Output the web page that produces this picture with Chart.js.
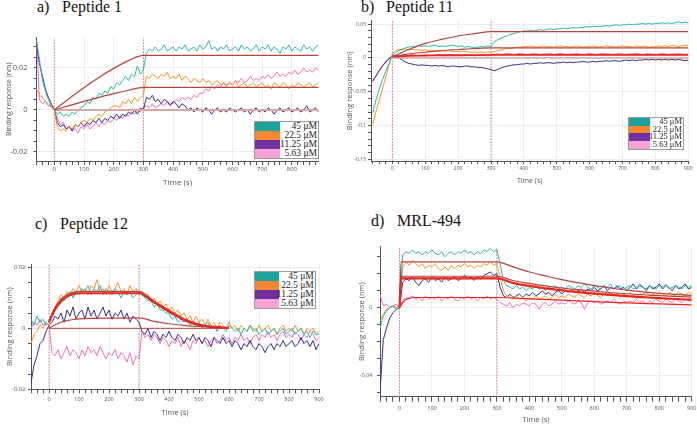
<!DOCTYPE html>
<html>
<head>
<meta charset="utf-8">
<script src="https://cdn.jsdelivr.net/npm/chart.js@4.4.1/dist/chart.umd.min.js"></script>
<style>
  body { margin: 0; width: 697px; height: 427px; background: #fff; position: relative; overflow: hidden; }
  .title { position: absolute; font-family: "Liberation Serif", serif; font-size: 16px; line-height: 16px; color: #111; white-space: nowrap; }
  .legend { position: absolute; box-sizing: border-box; border: 1px solid #9a9a9a; background: #fff; }
  .legend div { position: absolute; }
  .legend .lab { right: 1px; font-family: "Liberation Serif", serif; color: #222; white-space: nowrap; }
</style>
</head>
<body>
<div class="title" style="left:37px;top:-1px">a)</div><div class="title" style="left:62px;top:-1px">Peptide 1</div>
<div class="title" style="left:361px;top:-1px">b)</div><div class="title" style="left:386px;top:-1px">Peptide 11</div>
<div class="title" style="left:35px;top:216px">c)</div><div class="title" style="left:60px;top:216px">Peptide 12</div>
<div class="title" style="left:371px;top:213px">d)</div><div class="title" style="left:397px;top:213px">MRL-494</div>
<script>
// time axis (s), shared by every trace
const T = [-60, -50, -40, -30, -20, -10, 0,
  10, 20, 30, 40, 50, 60, 70, 80, 90, 100,
  110, 120, 130, 140, 150, 160, 170, 180, 190, 200,
  210, 220, 230, 240, 250, 260, 270, 280, 290, 300,
  310, 320, 330, 340, 350, 360, 370, 380, 390, 400,
  410, 420, 430, 440, 450, 460, 470, 480, 490, 500,
  510, 520, 530, 540, 550, 560, 570, 580, 590, 600,
  610, 620, 630, 640, 650, 660, 670, 680, 690, 700,
  710, 720, 730, 740, 750, 760, 770, 780, 790, 800,
  810, 820, 830, 840, 850, 860, 870, 880, 890, 900];

const concs = ['45 μM', '22.5 μM', '11.25 μM', '5.63 μM'];
const phaseTimes = [0, 300];

// a) Peptide 1
const a45 = [0.033, 0.024, 0.014, 0.009, 0.005, 0.002, 0.000,
  -0.002, -0.001, -0.003, -0.002, -0.003, -0.001, -0.002, 0.000, 0.001, 0.002,
  0.004, 0.003, 0.006, 0.005, 0.008, 0.007, 0.009, 0.008, 0.011, 0.010,
  0.013, 0.012, 0.014, 0.016, 0.014, 0.017, 0.016, 0.021, 0.017, 0.019,
  0.027, 0.029, 0.028, 0.030, 0.028, 0.029, 0.031, 0.028, 0.029, 0.030,
  0.028, 0.030, 0.029, 0.031, 0.028, 0.029, 0.030, 0.028, 0.031, 0.029,
  0.030, 0.033, 0.029, 0.030, 0.028, 0.030, 0.029, 0.031, 0.028, 0.029,
  0.030, 0.028, 0.031, 0.029, 0.030, 0.028, 0.029, 0.031, 0.028, 0.030,
  0.029, 0.031, 0.028, 0.030, 0.029, 0.027, 0.030, 0.029, 0.031, 0.028,
  0.030, 0.029, 0.028, 0.031, 0.029, 0.030, 0.028, 0.030, 0.031, 0.033];
const a22 = [0.010, 0.007, 0.006, 0.004, 0.003, 0.001, 0.000,
  -0.008, -0.010, -0.009, -0.010, -0.008, -0.009, -0.007, -0.008, -0.006, -0.005,
  -0.006, -0.004, -0.005, -0.003, -0.002, -0.003, -0.001, 0.000, 0.001, 0.002,
  0.002, 0.001, 0.004, 0.003, 0.005, 0.003, 0.006, 0.004, 0.006, 0.007,
  0.016, 0.015, 0.017, 0.016, 0.015, 0.017, 0.016, 0.018, 0.015, 0.016,
  0.015, 0.017, 0.014, 0.016, 0.015, 0.013, 0.015, 0.014, 0.013, 0.015,
  0.013, 0.014, 0.012, 0.013, 0.014, 0.012, 0.013, 0.011, 0.013, 0.012,
  0.014, 0.011, 0.012, 0.013, 0.011, 0.012, 0.013, 0.011, 0.012, 0.013,
  0.011, 0.012, 0.010, 0.013, 0.012, 0.011, 0.013, 0.012, 0.010, 0.012,
  0.011, 0.013, 0.012, 0.011, 0.012, 0.013, 0.011, 0.012, 0.013, 0.012];
const a11 = [0.032, 0.022, 0.016, 0.010, 0.006, 0.003, 0.000,
  -0.006, -0.008, -0.007, -0.009, -0.008, -0.010, -0.007, -0.008, -0.006, -0.008,
  -0.006, -0.007, -0.005, -0.006, -0.004, -0.006, -0.004, -0.005, -0.003, -0.004,
  -0.002, -0.004, -0.002, -0.003, -0.001, -0.002, 0.000, -0.002, 0.001, 0.000,
  0.006, 0.005, 0.007, 0.004, 0.005, 0.003, 0.005, 0.004, 0.002, 0.004,
  0.003, 0.001, 0.003, 0.002, 0.000, 0.001, -0.001, 0.001, 0.000, -0.001,
  0.001, 0.000, -0.002, 0.000, 0.001, -0.001, 0.000, -0.001, 0.001, 0.000,
  -0.001, 0.000, 0.001, -0.001, 0.000, -0.002, 0.000, 0.001, -0.001, 0.000,
  -0.001, 0.001, 0.000, -0.002, 0.000, 0.001, -0.001, 0.000, 0.001, -0.001,
  0.000, 0.001, -0.001, 0.000, 0.002, -0.001, 0.000, 0.001, -0.001, 0.001];
const a5 = [0.033, 0.005, 0.003, 0.004, 0.002, 0.002, 0.000,
  -0.004, -0.007, -0.006, -0.009, -0.008, -0.010, -0.009, -0.011, -0.008, -0.009,
  -0.007, -0.009, -0.008, -0.006, -0.008, -0.006, -0.007, -0.005, -0.006, -0.004,
  -0.005, -0.003, -0.004, -0.002, -0.003, -0.001, -0.002, 0.000, -0.001, 0.001,
  0.002, 0.001, 0.003, 0.001, 0.002, 0.003, 0.002, 0.004, 0.003, 0.003,
  0.005, 0.004, 0.006, 0.005, 0.006, 0.005, 0.007, 0.006, 0.008, 0.008,
  0.010, 0.009, 0.011, 0.010, 0.012, 0.011, 0.013, 0.012, 0.013, 0.012,
  0.014, 0.013, 0.015, 0.013, 0.014, 0.016, 0.014, 0.015, 0.014, 0.016,
  0.015, 0.017, 0.015, 0.016, 0.018, 0.016, 0.017, 0.016, 0.018, 0.017,
  0.019, 0.017, 0.018, 0.020, 0.018, 0.019, 0.018, 0.020, 0.019, 0.021];
const aFitT = [0, 50, 100, 150, 200, 250, 300, 890];
const aFit45 = [0, 0.0055, 0.0106, 0.0155, 0.0198, 0.0235, 0.026, 0.026];
const aFit22 = [0, 0.0021, 0.0041, 0.006, 0.0078, 0.0094, 0.0108, 0.0108];
const aFitZeroT = [0, 890];
const aFitZero = [0, 0];

// b) Peptide 11
const b45 = [-0.082, -0.062, -0.046, -0.032, -0.020, -0.008, 0.004,
  0.008, 0.011, 0.013, 0.015, 0.016, 0.017, 0.016, 0.018, 0.017, 0.018,
  0.017, 0.018, 0.019, 0.017, 0.018, 0.017, 0.018, 0.019, 0.018, 0.017,
  0.018, 0.016, 0.017, 0.016, 0.015, 0.016, 0.017, 0.016, 0.018, 0.017,
  0.024, 0.027, 0.029, 0.031, 0.033, 0.035, 0.036, 0.038, 0.039, 0.040,
  0.040, 0.041, 0.040, 0.041, 0.042, 0.041, 0.042, 0.043, 0.042, 0.043,
  0.043, 0.044, 0.043, 0.044, 0.045, 0.044, 0.045, 0.045, 0.046, 0.046,
  0.046, 0.047, 0.046, 0.047, 0.048, 0.047, 0.048, 0.049, 0.048, 0.049,
  0.049, 0.050, 0.049, 0.050, 0.050, 0.051, 0.050, 0.051, 0.050, 0.051,
  0.051, 0.052, 0.051, 0.052, 0.051, 0.052, 0.053, 0.052, 0.053, 0.052];
const b22 = [-0.098, -0.080, -0.062, -0.045, -0.028, -0.010, 0.006,
  0.011, 0.013, 0.012, 0.013, 0.012, 0.013, 0.012, 0.012, 0.011, 0.012,
  0.011, 0.012, 0.011, 0.010, 0.011, 0.010, 0.011, 0.010, 0.009, 0.010,
  0.009, 0.010, 0.009, 0.008, 0.009, 0.008, 0.009, 0.008, 0.009, 0.008,
  0.010, 0.011, 0.012, 0.013, 0.014, 0.014, 0.015, 0.016, 0.016, 0.017,
  0.017, 0.018, 0.017, 0.016, 0.017, 0.018, 0.017, 0.017, 0.016, 0.017,
  0.018, 0.017, 0.017, 0.016, 0.017, 0.018, 0.017, 0.016, 0.017, 0.017,
  0.018, 0.017, 0.016, 0.017, 0.018, 0.017, 0.017, 0.016, 0.017, 0.018,
  0.017, 0.017, 0.016, 0.018, 0.017, 0.017, 0.018, 0.016, 0.017, 0.017,
  0.018, 0.017, 0.018, 0.017, 0.019, 0.018, 0.017, 0.018, 0.019, 0.018];
const b11 = [-0.034, -0.027, -0.019, -0.012, -0.006, -0.001, 0.003,
  0.002, 0.000, -0.003, -0.006, -0.008, -0.009, -0.010, -0.011, -0.010, -0.011,
  -0.011, -0.012, -0.011, -0.012, -0.011, -0.012, -0.013, -0.012, -0.012, -0.013,
  -0.013, -0.012, -0.012, -0.013, -0.013, -0.014, -0.014, -0.015, -0.016, -0.017,
  -0.019, -0.017, -0.015, -0.013, -0.012, -0.011, -0.010, -0.010, -0.009, -0.009,
  -0.008, -0.009, -0.008, -0.008, -0.007, -0.008, -0.007, -0.007, -0.008, -0.007,
  -0.007, -0.006, -0.007, -0.006, -0.007, -0.006, -0.006, -0.005, -0.006, -0.006,
  -0.005, -0.006, -0.005, -0.005, -0.004, -0.005, -0.004, -0.004, -0.005, -0.004,
  -0.003, -0.004, -0.003, -0.004, -0.003, -0.003, -0.002, -0.003, -0.002, -0.003,
  -0.002, -0.003, -0.002, -0.003, -0.002, -0.003, -0.002, -0.003, -0.004, -0.003];
const b5 = [-0.035, -0.026, -0.018, -0.011, -0.005, 0.000, 0.003,
  0.004, 0.003, 0.004, 0.003, 0.004, 0.005, 0.004, 0.003, 0.004, 0.005,
  0.004, 0.003, 0.004, 0.005, 0.004, 0.003, 0.004, 0.005, 0.004, 0.004,
  0.003, 0.004, 0.005, 0.004, 0.003, 0.004, 0.005, 0.004, 0.003, 0.004,
  0.005, 0.006, 0.005, 0.006, 0.007, 0.006, 0.005, 0.006, 0.007, 0.006,
  0.005, 0.006, 0.007, 0.006, 0.005, 0.006, 0.006, 0.007, 0.005, 0.006,
  0.007, 0.006, 0.005, 0.006, 0.006, 0.007, 0.006, 0.005, 0.006, 0.007,
  0.006, 0.005, 0.006, 0.007, 0.006, 0.006, 0.005, 0.006, 0.007, 0.006,
  0.005, 0.006, 0.006, 0.007, 0.006, 0.005, 0.006, 0.007, 0.006, 0.005,
  0.006, 0.007, 0.006, 0.005, 0.006, 0.006, 0.007, 0.006, 0.005, 0.006];
const bFitT = [0, 50, 100, 150, 200, 250, 300, 900];
const bFit45 = [0.002, 0.0125, 0.0215, 0.0275, 0.0325, 0.036, 0.039, 0.039];
const bFit22 = [0.002, 0.006, 0.0085, 0.011, 0.0125, 0.014, 0.015, 0.015];
const bFit11 = [0.002, 0.003, 0.0035, 0.004, 0.004, 0.0042, 0.0045, 0.0045];
const bFitZeroT = [0, 900];
const bFitZero = [0, 0];

// c) Peptide 12
const c45 = [0.003, 0.001, 0.004, 0.002, 0.003, 0.001, 0.002,
  0.004, 0.006, 0.008, 0.010, 0.009, 0.011, 0.012, 0.010, 0.012, 0.011,
  0.013, 0.012, 0.014, 0.011, 0.013, 0.012, 0.014, 0.011, 0.013, 0.012,
  0.011, 0.013, 0.012, 0.010, 0.012, 0.011, 0.012, 0.010, 0.011, 0.012,
  0.011, 0.010, 0.009, 0.009, 0.007, 0.008, 0.006, 0.006, 0.005, 0.005,
  0.003, 0.004, 0.002, 0.003, 0.002, 0.003, 0.001, 0.002, 0.001, 0.002,
  0.000, 0.001, 0.002, 0.000, 0.001, -0.001, 0.001, 0.000, -0.001, 0.001,
  0.000, -0.001, 0.000, -0.002, 0.000, -0.001, 0.001, -0.001, 0.000, -0.002,
  -0.001, 0.000, -0.002, -0.001, 0.000, -0.002, -0.001, 0.000, -0.002, -0.001,
  0.000, -0.002, -0.001, 0.000, -0.002, -0.001, -0.003, -0.001, -0.002, -0.002];
const c22 = [-0.005, -0.002, -0.001, 0.001, 0.000, 0.002, 0.001,
  0.005, 0.007, 0.009, 0.011, 0.010, 0.012, 0.011, 0.013, 0.012, 0.014,
  0.012, 0.013, 0.011, 0.014, 0.013, 0.016, 0.012, 0.013, 0.011, 0.014,
  0.012, 0.013, 0.015, 0.012, 0.013, 0.011, 0.014, 0.012, 0.013, 0.011,
  0.012, 0.010, 0.011, 0.009, 0.010, 0.008, 0.009, 0.007, 0.008, 0.006,
  0.007, 0.005, 0.006, 0.004, 0.005, 0.003, 0.004, 0.002, 0.004, 0.002,
  0.003, 0.001, 0.003, 0.001, 0.002, 0.000, 0.002, 0.001, 0.000, 0.002,
  0.000, 0.001, -0.001, 0.001, 0.000, -0.001, 0.001, 0.000, -0.001, 0.001,
  -0.001, 0.000, 0.001, -0.001, 0.000, -0.002, 0.000, 0.001, -0.001, 0.000,
  -0.001, 0.001, -0.001, 0.000, -0.002, 0.000, -0.001, 0.000, -0.002, -0.001];
const c11 = [-0.018, -0.012, -0.009, -0.005, -0.004, -0.001, 0.001,
  0.002, 0.004, 0.003, 0.005, 0.002, 0.006, 0.004, 0.007, 0.003, 0.005,
  0.006, 0.003, 0.007, 0.004, 0.006, 0.003, 0.005, 0.007, 0.004, 0.006,
  0.003, 0.005, 0.004, 0.006, 0.003, 0.005, 0.002, 0.004, 0.003, 0.002,
  -0.001, -0.002, 0.000, -0.003, -0.001, -0.002, -0.004, -0.002, -0.003, -0.001,
  -0.003, -0.004, -0.002, -0.003, -0.005, -0.003, -0.004, -0.002, -0.004, -0.003,
  -0.005, -0.003, -0.004, -0.006, -0.003, -0.004, -0.005, -0.003, -0.005, -0.004,
  -0.006, -0.004, -0.005, -0.007, -0.005, -0.006, -0.004, -0.006, -0.007, -0.005,
  -0.006, -0.008, -0.006, -0.005, -0.007, -0.005, -0.006, -0.004, -0.006, -0.005,
  -0.004, -0.006, -0.005, -0.003, -0.005, -0.004, -0.006, -0.004, -0.007, -0.005];
const c5 = [0.000, 0.002, 0.001, 0.003, 0.001, 0.002, 0.001,
  -0.008, -0.009, -0.007, -0.010, -0.008, -0.006, -0.009, -0.007, -0.008, -0.010,
  -0.007, -0.009, -0.006, -0.008, -0.007, -0.009, -0.006, -0.008, -0.010, -0.008,
  -0.009, -0.007, -0.010, -0.008, -0.009, -0.011, -0.008, -0.012, -0.009, -0.010,
  -0.001, -0.003, -0.002, -0.004, -0.002, -0.003, -0.005, -0.003, -0.004, -0.006,
  -0.004, -0.005, -0.003, -0.006, -0.004, -0.005, -0.007, -0.004, -0.005, -0.003,
  -0.005, -0.004, -0.006, -0.004, -0.003, -0.005, -0.004, -0.002, -0.004, -0.003,
  -0.005, -0.003, -0.004, -0.002, -0.004, -0.003, -0.005, -0.003, -0.002, -0.004,
  -0.002, -0.003, -0.001, -0.003, -0.002, -0.004, -0.002, -0.001, -0.003, -0.002,
  -0.003, -0.001, -0.002, -0.004, -0.002, -0.003, -0.001, -0.002, -0.004, -0.003];
const cFitT = [0, 20, 40, 60, 80, 100, 300, 350, 400, 450, 500, 550, 600];
const cFit45 = [0.0025, 0.0068, 0.0095, 0.011, 0.0118, 0.0121, 0.0121, 0.009, 0.006, 0.0032, 0.0014, 0.0006, 0.0002];
const cFit22 = [0.002, 0.0062, 0.0088, 0.0104, 0.0112, 0.0115, 0.0115, 0.0085, 0.0055, 0.0027, 0.001, 0.0004, 0.0001];
const cFit11 = [0, 0.0012, 0.002, 0.0025, 0.0029, 0.0031, 0.0034, 0.0023, 0.0015, 0.001, 0.0006, 0.0003, 0.0002];
const cFitZeroT = [0, 600];
const cFitZero = [0, 0];

// d) MRL-494
const d45 = [-0.012, -0.005, -0.002, 0.000, 0.001, -0.001, 0.000,
  0.031, 0.033, 0.032, 0.034, 0.032, 0.033, 0.031, 0.033, 0.032, 0.034,
  0.032, 0.031, 0.033, 0.030, 0.032, 0.033, 0.031, 0.033, 0.032, 0.034,
  0.032, 0.033, 0.031, 0.033, 0.032, 0.034, 0.033, 0.035, 0.033, 0.034,
  0.026, 0.016, 0.013, 0.012, 0.011, 0.013, 0.011, 0.012, 0.010, 0.012,
  0.011, 0.013, 0.011, 0.012, 0.010, 0.012, 0.011, 0.013, 0.011, 0.012,
  0.011, 0.013, 0.012, 0.011, 0.013, 0.012, 0.014, 0.012, 0.011, 0.013,
  0.012, 0.011, 0.013, 0.012, 0.014, 0.011, 0.012, 0.013, 0.011, 0.012,
  0.013, 0.011, 0.012, 0.014, 0.012, 0.011, 0.013, 0.012, 0.011, 0.013,
  0.012, 0.014, 0.011, 0.012, 0.013, 0.012, 0.011, 0.013, 0.012, 0.013];
const d22 = [-0.008, -0.004, -0.001, 0.000, 0.001, 0.000, 0.001,
  0.024, 0.027, 0.025, 0.028, 0.026, 0.024, 0.026, 0.023, 0.025, 0.024,
  0.026, 0.023, 0.022, 0.024, 0.022, 0.025, 0.023, 0.025, 0.024, 0.026,
  0.024, 0.025, 0.023, 0.025, 0.024, 0.026, 0.025, 0.027, 0.025, 0.026,
  0.018, 0.010, 0.007, 0.006, 0.005, 0.007, 0.005, 0.006, 0.004, 0.006,
  0.005, 0.007, 0.005, 0.006, 0.007, 0.005, 0.006, 0.008, 0.006, 0.007,
  0.006, 0.008, 0.007, 0.006, 0.008, 0.007, 0.006, 0.008, 0.007, 0.009,
  0.007, 0.006, 0.008, 0.007, 0.009, 0.007, 0.008, 0.006, 0.008, 0.007,
  0.009, 0.007, 0.008, 0.006, 0.008, 0.009, 0.007, 0.008, 0.007, 0.009,
  0.008, 0.007, 0.009, 0.008, 0.007, 0.009, 0.008, 0.007, 0.009, 0.008];
const d11 = [-0.050, -0.019, -0.012, -0.006, -0.003, -0.001, 0.000,
  0.015, 0.017, 0.016, 0.018, 0.015, 0.013, 0.016, 0.017, 0.015, 0.018,
  0.016, 0.017, 0.015, 0.018, 0.016, 0.017, 0.018, 0.016, 0.017, 0.019,
  0.017, 0.018, 0.016, 0.018, 0.017, 0.019, 0.020, 0.021, 0.019, 0.020,
  0.012, 0.007, 0.006, 0.008, 0.006, 0.007, 0.008, 0.006, 0.008, 0.007,
  0.009, 0.007, 0.008, 0.010, 0.008, 0.009, 0.007, 0.009, 0.010, 0.008,
  0.010, 0.009, 0.011, 0.009, 0.010, 0.011, 0.009, 0.011, 0.010, 0.012,
  0.010, 0.011, 0.013, 0.010, 0.012, 0.011, 0.013, 0.011, 0.012, 0.010,
  0.012, 0.014, 0.011, 0.013, 0.012, 0.010, 0.013, 0.011, 0.012, 0.014,
  0.011, 0.013, 0.012, 0.010, 0.013, 0.011, 0.012, 0.014, 0.011, 0.012];
const d5 = [0.008, 0.001, 0.002, 0.000, 0.001, 0.002, 0.000,
  0.004, 0.006, 0.005, 0.007, 0.005, 0.006, 0.004, 0.007, 0.005, 0.006,
  0.005, 0.007, 0.004, 0.006, 0.005, 0.007, 0.005, 0.004, 0.006, 0.005,
  0.007, 0.005, 0.006, 0.004, 0.006, 0.005, 0.007, 0.005, 0.006, 0.005,
  0.003, 0.002, 0.001, 0.003, 0.000, 0.002, 0.001, 0.003, 0.002, 0.001,
  0.003, 0.002, -0.001, 0.002, 0.003, 0.001, 0.002, 0.004, 0.002, 0.003,
  0.002, 0.004, 0.003, 0.002, 0.004, 0.003, -0.001, 0.003, 0.004, 0.003,
  0.004, 0.002, 0.003, 0.004, 0.003, 0.005, 0.003, 0.002, 0.004, 0.003,
  0.004, 0.003, 0.005, 0.003, 0.004, 0.002, 0.004, 0.003, 0.005, 0.004,
  0.003, 0.005, 0.004, 0.003, 0.005, 0.004, 0.003, 0.005, 0.004, 0.004];
const dFitT = [0, 5, 300, 350, 400, 450, 500, 550, 600, 650, 700, 750, 800, 850, 900];
const dFit45 = [0, 0.027, 0.027, 0.024, 0.021, 0.0187, 0.0165, 0.0147, 0.013, 0.0116, 0.0104, 0.0093, 0.0085, 0.0078, 0.0072];
const dFit22 = [0, 0.0185, 0.0185, 0.016, 0.0143, 0.0128, 0.0116, 0.0106, 0.0097, 0.0089, 0.0082, 0.0076, 0.0071, 0.0066, 0.0062];
const dFit11 = [0, 0.0172, 0.0172, 0.0146, 0.0128, 0.0114, 0.0102, 0.0092, 0.0083, 0.0075, 0.0068, 0.0062, 0.0056, 0.0051, 0.0047];
const dFit5T = [0, 10, 20, 30, 50, 300, 400, 500, 600, 700, 800, 900];
const dFit5 = [0, 0.003, 0.0048, 0.0056, 0.006, 0.006, 0.0052, 0.0044, 0.0036, 0.0028, 0.0022, 0.0016];

const traceColors = ['#2db7ae', '#f1952a', '#3e2a86', '#ec72be'];
const swatchColors = ['#1aa39a', '#f6862f', '#7030a0', '#f7a3d8'];
const darkRed = '#b5443f';
const brightRed = '#e8261c';
const paleRed = '#d6a7a5';

Chart.defaults.font.family = '"Open Sans", "DejaVu Sans", sans-serif';

const isMult = (v, s) => Math.abs(v / s - Math.round(v / s)) < 1e-6;
const clear = 'rgba(0,0,0,0)';

// evenly stepped ticks between the axis limits (no extra ticks at min/max)
function stepTicks(min, max, step) {
  const out = [];
  for (let k = Math.ceil(min / step - 1e-6); k * step <= max + 1e-9; k++) {
    out.push({ value: +(k * step).toFixed(6) });
  }
  return out;
}

const panels = [
  {
    box: [0, 30, 330, 168], area: [36.5, 37.5, 318.6, 161],
    x: [-60, 890], y: [-0.0243, 0.0345, 0.005, 0.02],
    yTitleX: 8.5, xTitleY: 183,
    font: { yTick: 7.5, xTick: 6, yTitle: 7, xTitle: 8 }, xTickLen: 4, xTickPad: 0.5, yTickPad: 6,
    traces: [a45, a22, a11, a5],
    fits: [
      { t: aFitT, v: aFit45, c: darkRed, w: 1.2 },
      { t: aFitT, v: aFit22, c: darkRed, w: 1.2 },
      { t: aFitZeroT, v: aFitZero, c: paleRed, w: 2 }
    ],
    legend: [254, 120.7, 65, 38.5, 25, 9.5]
  },
  {
    box: [345, 10, 352, 190], area: [371, 20.7, 688.3, 161],
    x: [-65, 900], y: [-0.1523, 0.0551, 0.01, 0.05],
    yTitleX: 348, xTitleY: 180.7,
    font: { yTick: 5, xTick: 5, yTitle: 7.5, xTitle: 7 }, xTickLen: 3, xTickPad: 2, yTickPad: 2,
    traces: [b45, b22, b11, b5],
    fits: [
      { t: bFitT, v: bFit45, c: darkRed, w: 1.2 },
      { t: bFitT, v: bFit22, c: darkRed, w: 1.2 },
      { t: bFitT, v: bFit11, c: brightRed, w: 1.8 },
      { t: bFitZeroT, v: bFitZero, c: paleRed, w: 1.5 }
    ],
    legend: [627.7, 116.7, 56.3, 33.3, 21.6, 8.5]
  },
  {
    box: [0, 255, 330, 172], area: [31, 264, 319, 389.3],
    x: [-60, 900], y: [-0.02, 0.0211, 0.005, 0.02],
    yTitleX: 10.3, xTitleY: 412.7,
    font: { yTick: 6, xTick: 5.5, yTitle: 7.5, xTitle: 7.5 }, xTickLen: 4, xTickPad: 3, yTickPad: 2.5,
    traces: [c45, c22, c11, c5],
    fits: [
      { t: cFitT, v: cFit22, c: brightRed, w: 2.2 },
      { t: cFitT, v: cFit45, c: darkRed, w: 1.2 },
      { t: cFitT, v: cFit11, c: darkRed, w: 1.2 },
      { t: cFitZeroT, v: cFitZero, c: darkRed, w: 1 }
    ],
    legend: [254, 270.7, 61.7, 38.6, 24, 9.5]
  },
  {
    box: [345, 238, 352, 189], area: [380, 246.7, 691.7, 396.7],
    x: [-60, 900], y: [-0.0524, 0.0359, 0.01, 0.04],
    yTitleX: 362, xTitleY: 420,
    font: { yTick: 5.5, xTick: 5.5, yTitle: 7.5, xTitle: 7.5 }, xTickLen: 5, xTickPad: 3, yTickPad: 4.5,
    traces: [d45, d22, d11, d5],
    fits: [
      { t: dFitT, v: dFit11, c: brightRed, w: 2.2 },
      { t: dFitT, v: dFit45, c: darkRed, w: 1.2 },
      { t: dFitT, v: dFit22, c: darkRed, w: 1.2 },
      { t: dFit5T, v: dFit5, c: brightRed, w: 1.2 }
    ],
    legend: null
  }
];

function drawLegend(l) {
  const [x, y, w, h, sw, fs] = l;
  const box = document.createElement('div');
  box.className = 'legend';
  box.style.cssText = `left:${x}px;top:${y}px;width:${w}px;height:${h}px`;
  const rh = (h - 2) / 4;
  concs.forEach((c, i) => {
    const s = document.createElement('div');
    s.style.cssText = `left:0;top:${i * rh}px;width:${sw}px;height:${rh}px;background:${swatchColors[i]}`;
    const t = document.createElement('div');
    t.className = 'lab';
    t.textContent = c;
    t.style.cssText = `top:${i * rh}px;height:${rh}px;line-height:${rh}px;font-size:${fs}px`;
    box.append(s, t);
  });
  document.body.appendChild(box);
}

function drawPanel(p) {
  const [bl, bt, bw, bh] = p.box;
  const [al, at, ar, ab] = p.area;
  const yLh = p.font.yTitle * 1.2, xLh = p.font.xTitle * 1.2;
  const padLeft = Math.max(0, p.yTitleX - bl - yLh / 2);
  const yAxisW = al - bl - padLeft;
  const xAxisBottom = p.xTitleY + xLh / 2;
  const xAxisH = xAxisBottom - ab;

  const cv = document.createElement('canvas');
  cv.width = bw;
  cv.height = bh;
  cv.style.cssText = `position:absolute;left:${bl}px;top:${bt}px;width:${bw}px;height:${bh}px`;
  document.body.appendChild(cv);

  const datasets = [];
  p.fits.forEach(f => datasets.push({
    data: f.t.map((t, i) => ({ x: t, y: f.v[i] })),
    borderColor: f.c, borderWidth: f.w, cubicInterpolationMode: 'monotone'
  }));
  p.traces.forEach((s, i) => datasets.push({
    data: T.map((t, j) => ({ x: t, y: s[j] })),
    borderColor: traceColors[i], borderWidth: 1
  }));
  phaseTimes.forEach(t => datasets.push({
    data: [{ x: t, y: p.y[0] }, { x: t, y: p.y[1] }],
    borderColor: '#c98080', borderWidth: 1, borderDash: [1.5, 1.5]
  }));

  const [ymin, ymax, yMinor, yMajor] = p.y;
  new Chart(cv, {
    type: 'line',
    data: { datasets },
    options: {
      responsive: false,
      animation: false,
      devicePixelRatio: 1,
      events: [],
      layout: { padding: { left: padLeft, top: at - bt, right: bl + bw - ar, bottom: bt + bh - xAxisBottom } },
      elements: { point: { radius: 0 }, line: { tension: 0 } },
      plugins: { legend: { display: false }, tooltip: { enabled: false } },
      scales: {
        x: {
          type: 'linear', min: p.x[0], max: p.x[1],
          afterBuildTicks: s => { s.ticks = stepTicks(s.min, s.max, 20); },
          afterFit: s => { s.height = xAxisH; s.paddingLeft = 0; s.paddingRight = 0; },
          border: { color: '#555' },
          grid: {
            color: c => (c.tick && isMult(c.tick.value, 100)) ? '#ececec' : clear,
            tickColor: '#555',
            tickLength: p.xTickLen
          },
          ticks: {
            autoSkip: false, maxRotation: 0, padding: p.xTickPad, color: '#555',
            font: { size: p.font.xTick },
            callback: v => isMult(v, 100) ? String(v) : ''
          },
          title: { display: true, text: 'Time (s)', color: '#555', font: { size: p.font.xTitle }, padding: 0 }
        },
        y: {
          min: ymin, max: ymax,
          afterBuildTicks: s => { s.ticks = stepTicks(s.min, s.max, yMinor); },
          afterFit: s => { s.width = yAxisW; s.paddingTop = 0; s.paddingBottom = 0; },
          border: { color: '#555' },
          grid: {
            color: c => (c.tick && isMult(c.tick.value, yMajor)) ? '#ececec' : clear,
            tickColor: '#555',
            tickLength: 3
          },
          ticks: {
            autoSkip: false, padding: p.yTickPad, color: '#555',
            font: { size: p.font.yTick },
            callback: v => isMult(v, yMajor) ? String(+v.toFixed(3)) : ''
          },
          title: { display: true, text: 'Binding response (nm)', color: '#555', font: { size: p.font.yTitle }, padding: 0 }
        }
      }
    }
  });
  if (p.legend) drawLegend(p.legend);
}

panels.forEach(drawPanel);
</script>
</body>
</html>
